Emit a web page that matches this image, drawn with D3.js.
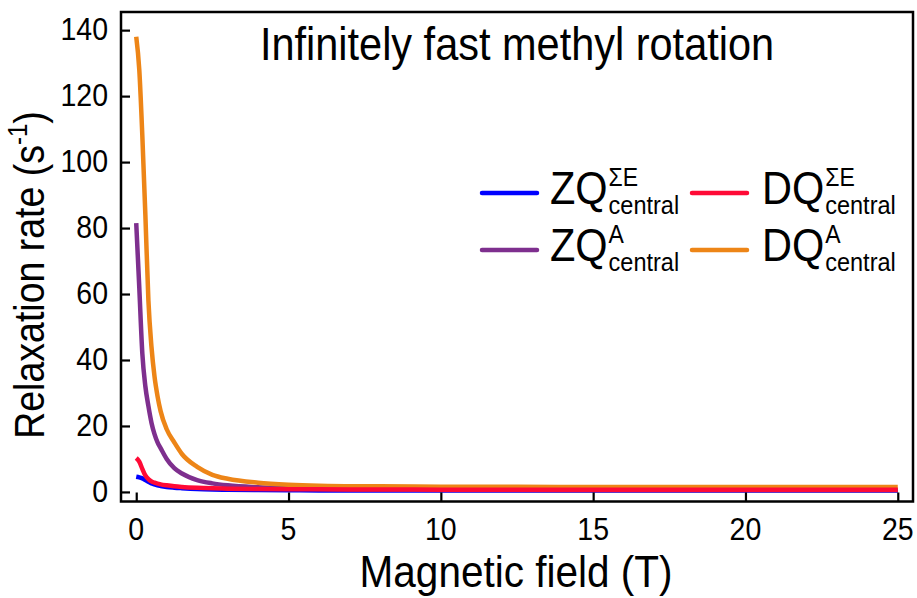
<!DOCTYPE html>
<html>
<head>
<meta charset="utf-8">
<script src="https://cdn.jsdelivr.net/npm/d3@7"></script>
<style>
  body { margin: 0; background: #fff; }
  text { font-family: "Liberation Sans", Arial, sans-serif; fill: #000; }
</style>
</head>
<body>
<svg id="svg"></svg>
<script>
// magnetic field (T) samples and relaxation rates (s^-1)
const field = [0, 0.1, 0.2, 0.3, 0.4, 0.5, 0.6, 0.7, 0.8, 1.0, 1.25, 1.5, 2, 2.5, 3, 4, 5, 6, 8, 10, 12.5, 15, 20, 25];
const zqE = [4.6, 4.4, 4.1, 3.6, 3.1, 2.6, 2.3, 2.0, 1.8, 1.5, 1.3, 1.15, 0.9, 0.75, 0.65, 0.55, 0.5, 0.45, 0.42, 0.4, 0.4, 0.4, 0.4, 0.4];
const zqA = [81.5, 62, 42, 32, 26, 21, 17.5, 15, 13.3, 10, 7.2, 5.6, 3.6, 2.6, 2.0, 1.4, 1.1, 0.9, 0.7, 0.6, 0.55, 0.5, 0.5, 0.5];
const dqE = [10.3, 9.2, 7.0, 5.0, 3.9, 3.2, 2.8, 2.5, 2.3, 2.0, 1.7, 1.5, 1.25, 1.1, 1.0, 0.9, 0.85, 0.8, 0.75, 0.7, 0.7, 0.65, 0.65, 0.65];
const dqA = [138, 128, 108, 84, 58, 44, 35, 29, 24.5, 19, 15, 11.5, 7.6, 5.2, 4.0, 2.8, 2.2, 1.9, 1.7, 1.6, 1.55, 1.5, 1.5, 1.5];

const xTicks = [0, 5, 10, 15, 20, 25];
const yTicks = [0, 20, 40, 60, 80, 100, 120, 140];

const series = [
    { name: 'ZQ', sup: 'ΣE', values: zqE, color: '#0000ff', col: 0, row: 0 },
    { name: 'ZQ', sup: 'A', values: zqA, color: '#7e2f8e', col: 0, row: 1 },
    { name: 'DQ', sup: 'A', values: dqA, color: '#ed8517', col: 1, row: 1 },
    { name: 'DQ', sup: 'ΣE', values: dqE, color: '#ff0a36', col: 1, row: 0 },
];

const width = 917, height = 598;
const sy = 1.13; // text in the figure is slightly taller than wide

const svg = d3.select('#svg')
    .attr('width', width)
    .attr('height', height)
    .attr('viewBox', [0, 0, width, height]);

const x = d3.scaleLinear().domain([-0.5, 25.5]).range([121, 913]);
const y = d3.scaleLinear().domain([-2.9, 145.5]).range([501.5, 12]);

function label(g, px, py, str, size, anchor, stretch) {
    return g.append('text')
        .attr('transform', `translate(${px},${py}) scale(1,${stretch || sy})`)
        .attr('font-size', size)
        .attr('text-anchor', anchor || 'start')
        .text(str);
}

// curves
const line = d3.line()
    .x((d, i) => x(field[i]))
    .y(d => y(d))
    .curve(d3.curveMonotoneX);

svg.append('g')
    .selectAll('path')
    .data(series)
    .join('path')
        .attr('fill', 'none')
        .attr('stroke', d => d.color)
        .attr('stroke-width', 4.5)
        .attr('stroke-linejoin', 'round')
        .attr('d', d => line(d.values));

// axes, ticks pointing inward
const xAxis = svg.append('g')
    .attr('transform', `translate(0,${y.range()[0]})`)
    .call(d3.axisBottom(x).tickValues(xTicks).tickSizeInner(-9).tickSizeOuter(0).tickFormat(''));
const yAxis = svg.append('g')
    .attr('transform', `translate(${x.range()[0]},0)`)
    .call(d3.axisLeft(y).tickValues(yTicks).tickSizeInner(-9).tickSizeOuter(0).tickFormat(''));
for (const a of [xAxis, yAxis]) {
    a.select('.domain').remove();
    a.selectAll('line').attr('stroke', '#000').attr('stroke-width', 2.2);
}

svg.append('rect')
    .attr('x', x.range()[0])
    .attr('y', y.range()[1])
    .attr('width', x.range()[1] - x.range()[0])
    .attr('height', y.range()[0] - y.range()[1])
    .attr('fill', 'none')
    .attr('stroke', '#000')
    .attr('stroke-width', 2.5);

for (const t of xTicks) label(svg, x(t), 540, t, 28.5, 'middle');
for (const t of yTicks) label(svg, 108, y(t) + 10, t, 28.5, 'end');

// axis titles
label(svg, 516, 587, 'Magnetic field (T)', 40.5, 'middle', 1.08);
const yl = svg.append('text')
    .attr('transform', `translate(44,275) rotate(-90) scale(1,${sy})`)
    .attr('font-size', 37.5)
    .attr('text-anchor', 'middle');
yl.append('tspan').text('Relaxation rate (s');
yl.append('tspan').attr('font-size', 24).attr('dy', -15).text('-1');
yl.append('tspan').attr('dy', 15).text(')');

// title
label(svg, 517, 60, 'Infinitely fast methyl rotation', 41.5, 'middle');

// legend
const legend = svg.append('g')
    .selectAll('g')
    .data(series)
    .join('g')
        .attr('transform', d => `translate(${d.col ? 692 : 482},${d.row ? 250 : 193})`);

legend.append('line')
    .attr('x1', 0).attr('x2', 55)
    .attr('stroke', d => d.color)
    .attr('stroke-width', 4.5)
    .attr('stroke-linecap', 'round');

legend.each(function(d) {
    const g = d3.select(this);
    const tx = d.col ? 70 : 68;
    const t = label(g, tx, 11, d.name, 41.5);
    const w = t.node().getComputedTextLength();
    label(g, tx + w + 1, -7, d.sup, 23);
    label(g, tx + w + 1, 21, 'central', 23.5);
});
</script>
</body>
</html>
